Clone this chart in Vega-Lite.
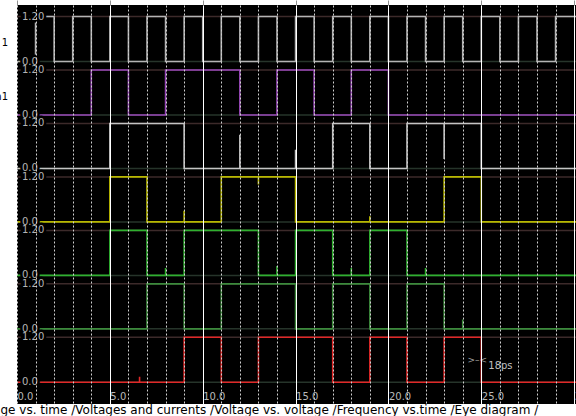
{
"$schema":"https://vega.github.io/schema/vega-lite/v6.json",
"width":559,"height":399,"autosize":"none",
"padding":{"left":17,"top":5,"right":0,"bottom":12},
"background":"white",
"config":{"view":{"fill":"black","stroke":null},"font":"DejaVu Sans"},
"datasets":{
"levels":[{"v":1.2,"lab":"1.20"},{"v":0,"lab":"0.0"}],
"sig":[
{"s":"r1","t":0,"v":0},{"s":"r1","t":1,"v":1.2},{"s":"r1","t":2,"v":0},{"s":"r1","t":3,"v":1.2},{"s":"r1","t":4,"v":0},{"s":"r1","t":5,"v":1.2},{"s":"r1","t":6,"v":0},{"s":"r1","t":7,"v":1.2},{"s":"r1","t":8,"v":0},{"s":"r1","t":9,"v":1.2},{"s":"r1","t":10,"v":0},{"s":"r1","t":11,"v":1.2},{"s":"r1","t":12,"v":0},{"s":"r1","t":13,"v":1.2},{"s":"r1","t":14,"v":0},{"s":"r1","t":15,"v":1.2},{"s":"r1","t":16,"v":0},{"s":"r1","t":17,"v":1.2},{"s":"r1","t":18,"v":0},{"s":"r1","t":19,"v":1.2},{"s":"r1","t":20,"v":0},{"s":"r1","t":21,"v":1.2},{"s":"r1","t":22,"v":0},{"s":"r1","t":23,"v":1.2},{"s":"r1","t":24,"v":0},{"s":"r1","t":25,"v":1.2},{"s":"r1","t":26,"v":0},{"s":"r1","t":27,"v":1.2},{"s":"r1","t":28,"v":0},{"s":"r1","t":29,"v":1.2},{"s":"r1","t":30.1,"v":1.2},
{"s":"r2","t":0,"v":0},{"s":"r2","t":4,"v":1.2},{"s":"r2","t":6,"v":0},{"s":"r2","t":8,"v":1.2},{"s":"r2","t":12,"v":0},{"s":"r2","t":14,"v":1.2},{"s":"r2","t":16,"v":0},{"s":"r2","t":18,"v":1.2},{"s":"r2","t":20,"v":0},{"s":"r2","t":30.1,"v":0},
{"s":"r3","t":0,"v":0},{"s":"r3","t":5,"v":1.2},{"s":"r3","t":9,"v":0},{"s":"r3","t":12,"v":0},{"s":"r3","t":12,"v":0.9},{"s":"r3","t":12,"v":0},{"s":"r3","t":15,"v":0},{"s":"r3","t":15,"v":0.5},{"s":"r3","t":15,"v":0},{"s":"r3","t":17,"v":1.2},{"s":"r3","t":19,"v":0},{"s":"r3","t":21,"v":1.2},{"s":"r3","t":23,"v":1.2},{"s":"r3","t":23,"v":0.25},{"s":"r3","t":23,"v":1.2},{"s":"r3","t":25,"v":0},{"s":"r3","t":30.1,"v":0},
{"s":"r4","t":0,"v":0},{"s":"r4","t":5,"v":1.2},{"s":"r4","t":7,"v":0},{"s":"r4","t":9,"v":0},{"s":"r4","t":9,"v":0.3},{"s":"r4","t":9,"v":0},{"s":"r4","t":11,"v":1.2},{"s":"r4","t":13,"v":1.2},{"s":"r4","t":13,"v":1.0},{"s":"r4","t":13,"v":1.2},{"s":"r4","t":15,"v":0},{"s":"r4","t":19,"v":0},{"s":"r4","t":19,"v":0.15},{"s":"r4","t":19,"v":0},{"s":"r4","t":23,"v":1.2},{"s":"r4","t":25,"v":0},{"s":"r4","t":30.1,"v":0},
{"s":"r5","t":0,"v":0},{"s":"r5","t":5,"v":1.2},{"s":"r5","t":7,"v":0},{"s":"r5","t":8,"v":0},{"s":"r5","t":8,"v":0.2},{"s":"r5","t":8,"v":0},{"s":"r5","t":9,"v":1.2},{"s":"r5","t":13,"v":0},{"s":"r5","t":14,"v":0},{"s":"r5","t":14,"v":0.25},{"s":"r5","t":14,"v":0},{"s":"r5","t":15,"v":1.2},{"s":"r5","t":17,"v":0},{"s":"r5","t":18,"v":0},{"s":"r5","t":18,"v":0.2},{"s":"r5","t":18,"v":0},{"s":"r5","t":19,"v":1.2},{"s":"r5","t":21,"v":0},{"s":"r5","t":22,"v":0},{"s":"r5","t":22,"v":0.2},{"s":"r5","t":22,"v":0},{"s":"r5","t":30.1,"v":0},
{"s":"r6","t":0,"v":0},{"s":"r6","t":7,"v":1.2},{"s":"r6","t":9,"v":0},{"s":"r6","t":11,"v":1.2},{"s":"r6","t":15,"v":0},{"s":"r6","t":17,"v":1.2},{"s":"r6","t":19,"v":0},{"s":"r6","t":21,"v":1.2},{"s":"r6","t":23,"v":0},{"s":"r6","t":24,"v":0},{"s":"r6","t":24,"v":0.25},{"s":"r6","t":24,"v":0},{"s":"r6","t":30.1,"v":0},
{"s":"r7","t":0,"v":0},{"s":"r7","t":6.6,"v":0},{"s":"r7","t":6.6,"v":0.15},{"s":"r7","t":6.6,"v":0},{"s":"r7","t":9,"v":1.2},{"s":"r7","t":11,"v":0},{"s":"r7","t":13,"v":1.2},{"s":"r7","t":17,"v":0},{"s":"r7","t":19,"v":1.2},{"s":"r7","t":21,"v":0},{"s":"r7","t":23,"v":1.2},{"s":"r7","t":25,"v":0},{"s":"r7","t":30.1,"v":0}
]},
"resolve":{"scale":{"y":"independent"},"axis":{"x":"independent","y":"independent"}},
"layer":[
 {"data":{"name":"levels"},"mark":{"type":"rule","strokeWidth":1.5},"encoding":{"y":{"field":"v","type":"quantitative","scale":{"domain":[-9.1333,1.5067],"nice":false,"zero":false},"axis":null},"color":{"condition":{"test":"datum.v>0","value":"#3c2a2a"},"value":"#26342a"}}},
 {"data":{"name":"levels"},"mark":{"type":"rule","strokeWidth":1.5},"encoding":{"y":{"field":"v","type":"quantitative","scale":{"domain":[-7.7075,2.9325],"nice":false,"zero":false},"axis":null},"color":{"condition":{"test":"datum.v>0","value":"#3c2a2a"},"value":"#26342a"}}},
 {"data":{"name":"levels"},"mark":{"type":"rule","strokeWidth":1.5},"encoding":{"y":{"field":"v","type":"quantitative","scale":{"domain":[-6.2816,4.3584],"nice":false,"zero":false},"axis":null},"color":{"condition":{"test":"datum.v>0","value":"#3c2a2a"},"value":"#26342a"}}},
 {"data":{"name":"levels"},"mark":{"type":"rule","strokeWidth":1.5},"encoding":{"y":{"field":"v","type":"quantitative","scale":{"domain":[-4.8557,5.7843],"nice":false,"zero":false},"axis":null},"color":{"condition":{"test":"datum.v>0","value":"#3c2a2a"},"value":"#26342a"}}},
 {"data":{"name":"levels"},"mark":{"type":"rule","strokeWidth":1.5},"encoding":{"y":{"field":"v","type":"quantitative","scale":{"domain":[-3.4299,7.2101],"nice":false,"zero":false},"axis":null},"color":{"condition":{"test":"datum.v>0","value":"#3c2a2a"},"value":"#26342a"}}},
 {"data":{"name":"levels"},"mark":{"type":"rule","strokeWidth":1.5},"encoding":{"y":{"field":"v","type":"quantitative","scale":{"domain":[-2.004,8.636],"nice":false,"zero":false},"axis":null},"color":{"condition":{"test":"datum.v>0","value":"#3c2a2a"},"value":"#26342a"}}},
 {"data":{"name":"levels"},"mark":{"type":"rule","strokeWidth":1.5},"encoding":{"y":{"field":"v","type":"quantitative","scale":{"domain":[-0.5781,10.0619],"nice":false,"zero":false},"axis":null},"color":{"condition":{"test":"datum.v>0","value":"#3c2a2a"},"value":"#26342a"}}},

 {"data":{"name":"sig"},"transform":[{"filter":"datum.s==='r1'"}],"mark":{"type":"line","interpolate":"step-after","color":"#b4b4b4","strokeWidth":1.6},
  "encoding":{"x":{"field":"t","type":"quantitative","scale":{"domain":[0,30.1],"nice":false,"zero":false},
   "axis":{"orient":"bottom","values":[0,1,2,3,4,5,6,7,8,9,10,11,12,13,14,15,16,17,18,19,20,21,22,23,24,25,26,27,28,29,30],"grid":true,
    "gridColor":{"condition":{"test":"datum.value % 5 === 0 && datum.value > 0","value":"#ffffff"},"value":"#cfcfcf"},
    "gridDash":{"condition":{"test":"datum.value % 5 === 0 && datum.value > 0","value":[]},"value":[2,2]},"gridWidth":1,
    "domain":false,"ticks":false,"tickSize":0,
    "labelExpr":"datum.value % 5 === 0 ? format(datum.value,'.1f') : ''","labelAlign":"left","labelBaseline":"middle","labelPadding":-8,"labelColor":"#b8b8b8","labelFontSize":10,"labelFont":"DejaVu Sans","labelOverlap":false,"labelBound":false,"labelFlush":false,
    "title":"ge vs. time /Voltages and currents /Voltage vs. voltage /Frequency vs.time /Eye diagram /","titleX":-17,"titleY":5,"titleAlign":"left","titleAnchor":"start","titleBaseline":"middle","titleFontSize":12,"titleFontWeight":"normal","titleColor":"black","titleFont":"DejaVu Sans","zindex":1}},
   "y":{"field":"v","type":"quantitative","scale":{"domain":[-9.1333,1.5067],"nice":false,"zero":false},"axis":null}}},
 {"data":{"name":"sig"},"transform":[{"filter":"datum.s==='r2'"}],"mark":{"type":"line","interpolate":"step-after","color":"#9848b8","strokeWidth":1.6},
  "encoding":{"x":{"field":"t","type":"quantitative","axis":{"orient":"top","values":[0,5,10,15,20,25,30],"labels":false,"domain":false,"ticks":true,"tickSize":5,"tickColor":"#909090","grid":false,"title":null}},
   "y":{"field":"v","type":"quantitative","scale":{"domain":[-7.7075,2.9325],"nice":false,"zero":false},"axis":null}}},
 {"data":{"name":"sig"},"transform":[{"filter":"datum.s==='r3'"}],"mark":{"type":"line","interpolate":"step-after","color":"#c4c4c4","strokeWidth":1.6},"encoding":{"x":{"field":"t","type":"quantitative","axis":null},"y":{"field":"v","type":"quantitative","scale":{"domain":[-6.2816,4.3584],"nice":false,"zero":false},"axis":null}}},
 {"data":{"name":"sig"},"transform":[{"filter":"datum.s==='r4'"}],"mark":{"type":"line","interpolate":"step-after","color":"#b8b800","strokeWidth":1.6},"encoding":{"x":{"field":"t","type":"quantitative","axis":null},"y":{"field":"v","type":"quantitative","scale":{"domain":[-4.8557,5.7843],"nice":false,"zero":false},"axis":null}}},
 {"data":{"name":"sig"},"transform":[{"filter":"datum.s==='r5'"}],"mark":{"type":"line","interpolate":"step-after","color":"#30b030","strokeWidth":1.6},"encoding":{"x":{"field":"t","type":"quantitative","axis":null},"y":{"field":"v","type":"quantitative","scale":{"domain":[-3.4299,7.2101],"nice":false,"zero":false},"axis":null}}},
 {"data":{"name":"sig"},"transform":[{"filter":"datum.s==='r6'"}],"mark":{"type":"line","interpolate":"step-after","color":"#3c8a3c","strokeWidth":1.6},"encoding":{"x":{"field":"t","type":"quantitative","axis":null},"y":{"field":"v","type":"quantitative","scale":{"domain":[-2.004,8.636],"nice":false,"zero":false},"axis":null}}},
 {"data":{"name":"sig"},"transform":[{"filter":"datum.s==='r7'"}],"mark":{"type":"line","interpolate":"step-after","color":"#e02828","strokeWidth":1.6},"encoding":{"x":{"field":"t","type":"quantitative","axis":null},"y":{"field":"v","type":"quantitative","scale":{"domain":[-0.5781,10.0619],"nice":false,"zero":false},"axis":null}}},

 {"data":{"name":"levels"},"mark":{"type":"text","align":"left","dx":5,"fontSize":10,"fill":"black","stroke":"black","strokeWidth":5},"encoding":{"x":{"datum":0,"axis":null},"y":{"field":"v","type":"quantitative","scale":{"domain":[-9.1333,1.5067],"nice":false,"zero":false},"axis":null},"text":{"field":"lab"}}},
 {"data":{"name":"levels"},"mark":{"type":"text","align":"left","dx":5,"fontSize":10,"fill":"black","stroke":"black","strokeWidth":5},"encoding":{"x":{"datum":0,"axis":null},"y":{"field":"v","type":"quantitative","scale":{"domain":[-7.7075,2.9325],"nice":false,"zero":false},"axis":null},"text":{"field":"lab"}}},
 {"data":{"name":"levels"},"mark":{"type":"text","align":"left","dx":5,"fontSize":10,"fill":"black","stroke":"black","strokeWidth":5},"encoding":{"x":{"datum":0,"axis":null},"y":{"field":"v","type":"quantitative","scale":{"domain":[-6.2816,4.3584],"nice":false,"zero":false},"axis":null},"text":{"field":"lab"}}},
 {"data":{"name":"levels"},"mark":{"type":"text","align":"left","dx":5,"fontSize":10,"fill":"black","stroke":"black","strokeWidth":5},"encoding":{"x":{"datum":0,"axis":null},"y":{"field":"v","type":"quantitative","scale":{"domain":[-4.8557,5.7843],"nice":false,"zero":false},"axis":null},"text":{"field":"lab"}}},
 {"data":{"name":"levels"},"mark":{"type":"text","align":"left","dx":5,"fontSize":10,"fill":"black","stroke":"black","strokeWidth":5},"encoding":{"x":{"datum":0,"axis":null},"y":{"field":"v","type":"quantitative","scale":{"domain":[-3.4299,7.2101],"nice":false,"zero":false},"axis":null},"text":{"field":"lab"}}},
 {"data":{"name":"levels"},"mark":{"type":"text","align":"left","dx":5,"fontSize":10,"fill":"black","stroke":"black","strokeWidth":5},"encoding":{"x":{"datum":0,"axis":null},"y":{"field":"v","type":"quantitative","scale":{"domain":[-2.004,8.636],"nice":false,"zero":false},"axis":null},"text":{"field":"lab"}}},
 {"data":{"name":"levels"},"mark":{"type":"text","align":"left","dx":5,"fontSize":10,"fill":"black","stroke":"black","strokeWidth":5},"encoding":{"x":{"datum":0,"axis":null},"y":{"field":"v","type":"quantitative","scale":{"domain":[-0.5781,10.0619],"nice":false,"zero":false},"axis":null},"text":{"field":"lab"}}},

 {"data":{"name":"levels"},"mark":{"type":"text","align":"left","dx":5,"fontSize":10,"color":"#b4b4b4"},"encoding":{"x":{"datum":0,"axis":null},"y":{"field":"v","type":"quantitative","scale":{"domain":[-9.1333,1.5067],"nice":false,"zero":false},"axis":null},"text":{"field":"lab"}}},
 {"data":{"name":"levels"},"mark":{"type":"text","align":"left","dx":5,"fontSize":10,"color":"#b4b4b4"},"encoding":{"x":{"datum":0,"axis":null},"y":{"field":"v","type":"quantitative","scale":{"domain":[-7.7075,2.9325],"nice":false,"zero":false},"axis":null},"text":{"field":"lab"}}},
 {"data":{"name":"levels"},"mark":{"type":"text","align":"left","dx":5,"fontSize":10,"color":"#b4b4b4"},"encoding":{"x":{"datum":0,"axis":null},"y":{"field":"v","type":"quantitative","scale":{"domain":[-6.2816,4.3584],"nice":false,"zero":false},"axis":null},"text":{"field":"lab"}}},
 {"data":{"name":"levels"},"mark":{"type":"text","align":"left","dx":5,"fontSize":10,"color":"#b4b4b4"},"encoding":{"x":{"datum":0,"axis":null},"y":{"field":"v","type":"quantitative","scale":{"domain":[-4.8557,5.7843],"nice":false,"zero":false},"axis":null},"text":{"field":"lab"}}},
 {"data":{"name":"levels"},"mark":{"type":"text","align":"left","dx":5,"fontSize":10,"color":"#b4b4b4"},"encoding":{"x":{"datum":0,"axis":null},"y":{"field":"v","type":"quantitative","scale":{"domain":[-3.4299,7.2101],"nice":false,"zero":false},"axis":null},"text":{"field":"lab"}}},
 {"data":{"name":"levels"},"mark":{"type":"text","align":"left","dx":5,"fontSize":10,"color":"#b4b4b4"},"encoding":{"x":{"datum":0,"axis":null},"y":{"field":"v","type":"quantitative","scale":{"domain":[-2.004,8.636],"nice":false,"zero":false},"axis":null},"text":{"field":"lab"}}},
 {"data":{"name":"levels"},"mark":{"type":"text","align":"left","dx":5,"fontSize":10,"color":"#b4b4b4"},"encoding":{"x":{"datum":0,"axis":null},"y":{"field":"v","type":"quantitative","scale":{"domain":[-0.5781,10.0619],"nice":false,"zero":false},"axis":null},"text":{"field":"lab"}}},

 {"data":{"values":[{"lab":"1","v":0.49}]},"mark":{"type":"text","align":"right","dx":-9,"fontSize":10,"color":"black"},"encoding":{"x":{"datum":0,"axis":null},"y":{"field":"v","type":"quantitative","scale":{"domain":[-9.1333,1.5067],"nice":false,"zero":false},"axis":null},"text":{"field":"lab"}}},
 {"data":{"values":[{"lab":"n1","v":0.47}]},"mark":{"type":"text","align":"right","dx":-9,"fontSize":10,"color":"black"},"encoding":{"x":{"datum":0,"axis":null},"y":{"field":"v","type":"quantitative","scale":{"domain":[-7.7075,2.9325],"nice":false,"zero":false},"axis":null},"text":{"field":"lab"}}},
 {"data":{"values":[{"lab":"18ps","v":0.435,"t":25}]},"mark":{"type":"text","align":"left","dx":7,"fontSize":10,"color":"#c0c0c0"},"encoding":{"x":{"field":"t","type":"quantitative","axis":null},"y":{"field":"v","type":"quantitative","scale":{"domain":[-0.5781,10.0619],"nice":false,"zero":false},"axis":null},"text":{"field":"lab"}}},
 {"data":{"values":[{"lab":">–<","v":0.6,"t":25}]},"mark":{"type":"text","align":"center","dx":-4,"fontSize":9,"color":"#a0a0a0"},"encoding":{"x":{"field":"t","type":"quantitative","axis":null},"y":{"field":"v","type":"quantitative","scale":{"domain":[-0.5781,10.0619],"nice":false,"zero":false},"axis":null},"text":{"field":"lab"}}}
]
}
